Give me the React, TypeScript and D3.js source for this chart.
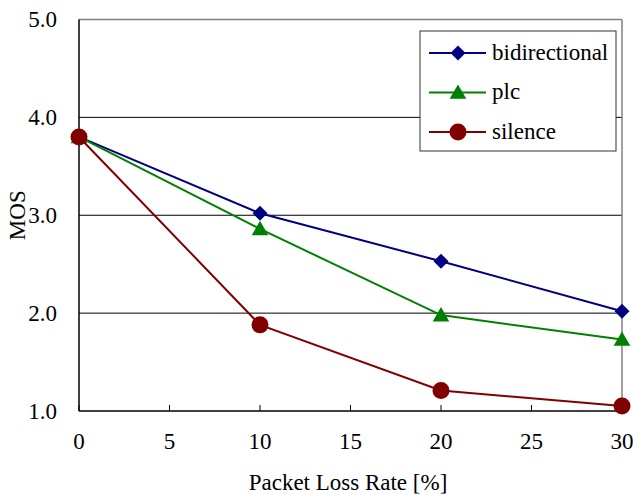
import * as d3 from "d3";

const lossRates = [0, 10, 20, 30];
const bidirectional = [3.8, 3.02, 2.53, 2.02];
const plc = [3.8, 2.86, 1.98, 1.73];
const silence = [3.8, 1.88, 1.21, 1.05];
const xTicks = [0, 5, 10, 15, 20, 25, 30];
const yTicks = [1, 2, 3, 4, 5];

const W = 633;
const H = 495;
const left = 79;
const right = 622;
const top = 19.5;
const bottom = 411;
const font = "Liberation Serif, Times New Roman, serif";
const txt = { fontFamily: font, fontSize: 23, fill: "#000" };

const series = [
  { name: "bidirectional", values: bidirectional, color: "#000080", marker: "diamond" },
  { name: "plc", values: plc, color: "#008000", marker: "triangle" },
  { name: "silence", values: silence, color: "#800000", marker: "circle" },
];

function Marker({ kind, x, y, color }: { kind: string; x: number; y: number; color: string }) {
  if (kind === "circle") return <circle cx={x} cy={y} r={8.5} fill={color} />;
  if (kind === "diamond") {
    const r = 7.5;
    return (
      <path
        d={`M${x},${y - r}L${x + r},${y}L${x},${y + r}L${x - r},${y}Z`}
        fill={color}
      />
    );
  }
  const path = d3.symbol().type(d3.symbolTriangle).size(120)();
  return <path d={path ?? ""} transform={`translate(${x},${y + 1.5})`} fill={color} />;
}

export default function App() {
  const x = d3.scaleLinear().domain([0, 30]).range([left, right]);
  const y = d3.scaleLinear().domain([1, 5]).range([bottom, top]);
  const line = d3
    .line<number>()
    .x((_, i) => x(lossRates[i]))
    .y((d) => y(d));

  const legendX = 420;
  const legendY = 31;
  const legendRowY = (i: number) => legendY + 22 + i * 39.5;

  return (
    <svg
      width={W}
      height={H}
      style={{ position: "absolute", left: 0, top: 0, background: "#fff" }}
    >
      {/* gridlines */}
      {yTicks.slice(1).map((t) => (
        <line key={t} x1={left} x2={right} y1={y(t)} y2={y(t)} stroke="#000" strokeWidth={1} />
      ))}
      {/* plot border top/right */}
      <line x1={left} x2={right} y1={top} y2={top} stroke="#808080" strokeWidth={1.5} />
      <line x1={right} x2={right} y1={top} y2={bottom} stroke="#808080" strokeWidth={1.5} />
      {/* axes */}
      <line x1={left} x2={left} y1={top} y2={bottom} stroke="#000" strokeWidth={1.5} />
      <line x1={left} x2={right} y1={bottom} y2={bottom} stroke="#000" strokeWidth={1.5} />
      {xTicks.map((t) => (
        <line key={t} x1={x(t)} x2={x(t)} y1={bottom} y2={bottom - 6} stroke="#000" strokeWidth={1} />
      ))}

      {/* tick labels */}
      {yTicks.map((t) => (
        <text key={t} x={57} y={y(t)} dy="0.33em" textAnchor="end" style={txt}>
          {t.toFixed(1)}
        </text>
      ))}
      {xTicks.map((t) => (
        <text key={t} x={x(t)} y={449} textAnchor="middle" style={txt}>
          {t}
        </text>
      ))}

      {/* axis titles */}
      <text x={348} y={490} textAnchor="middle" style={txt}>
        Packet Loss Rate [%]
      </text>
      <text transform={`translate(25,${(top + bottom) / 2}) rotate(-90)`} textAnchor="middle" style={txt}>
        MOS
      </text>

      {/* series */}
      {series.map((s) => (
        <g key={s.name}>
          <path d={line(s.values) ?? ""} fill="none" stroke={s.color} strokeWidth={2} />
          {s.values.map((v, i) => (
            <Marker key={i} kind={s.marker} x={x(lossRates[i])} y={y(v)} color={s.color} />
          ))}
        </g>
      ))}

      {/* legend */}
      <rect x={legendX} y={legendY} width={196} height={120} fill="#fff" stroke="#333" strokeWidth={1} />
      {series.map((s, i) => (
        <g key={s.name}>
          <line x1={429} x2={486} y1={legendRowY(i)} y2={legendRowY(i)} stroke={s.color} strokeWidth={2} />
          <Marker kind={s.marker} x={458} y={legendRowY(i)} color={s.color} />
          <text x={492} y={legendRowY(i)} dy="0.3em" style={txt}>
            {s.name}
          </text>
        </g>
      ))}
    </svg>
  );
}
